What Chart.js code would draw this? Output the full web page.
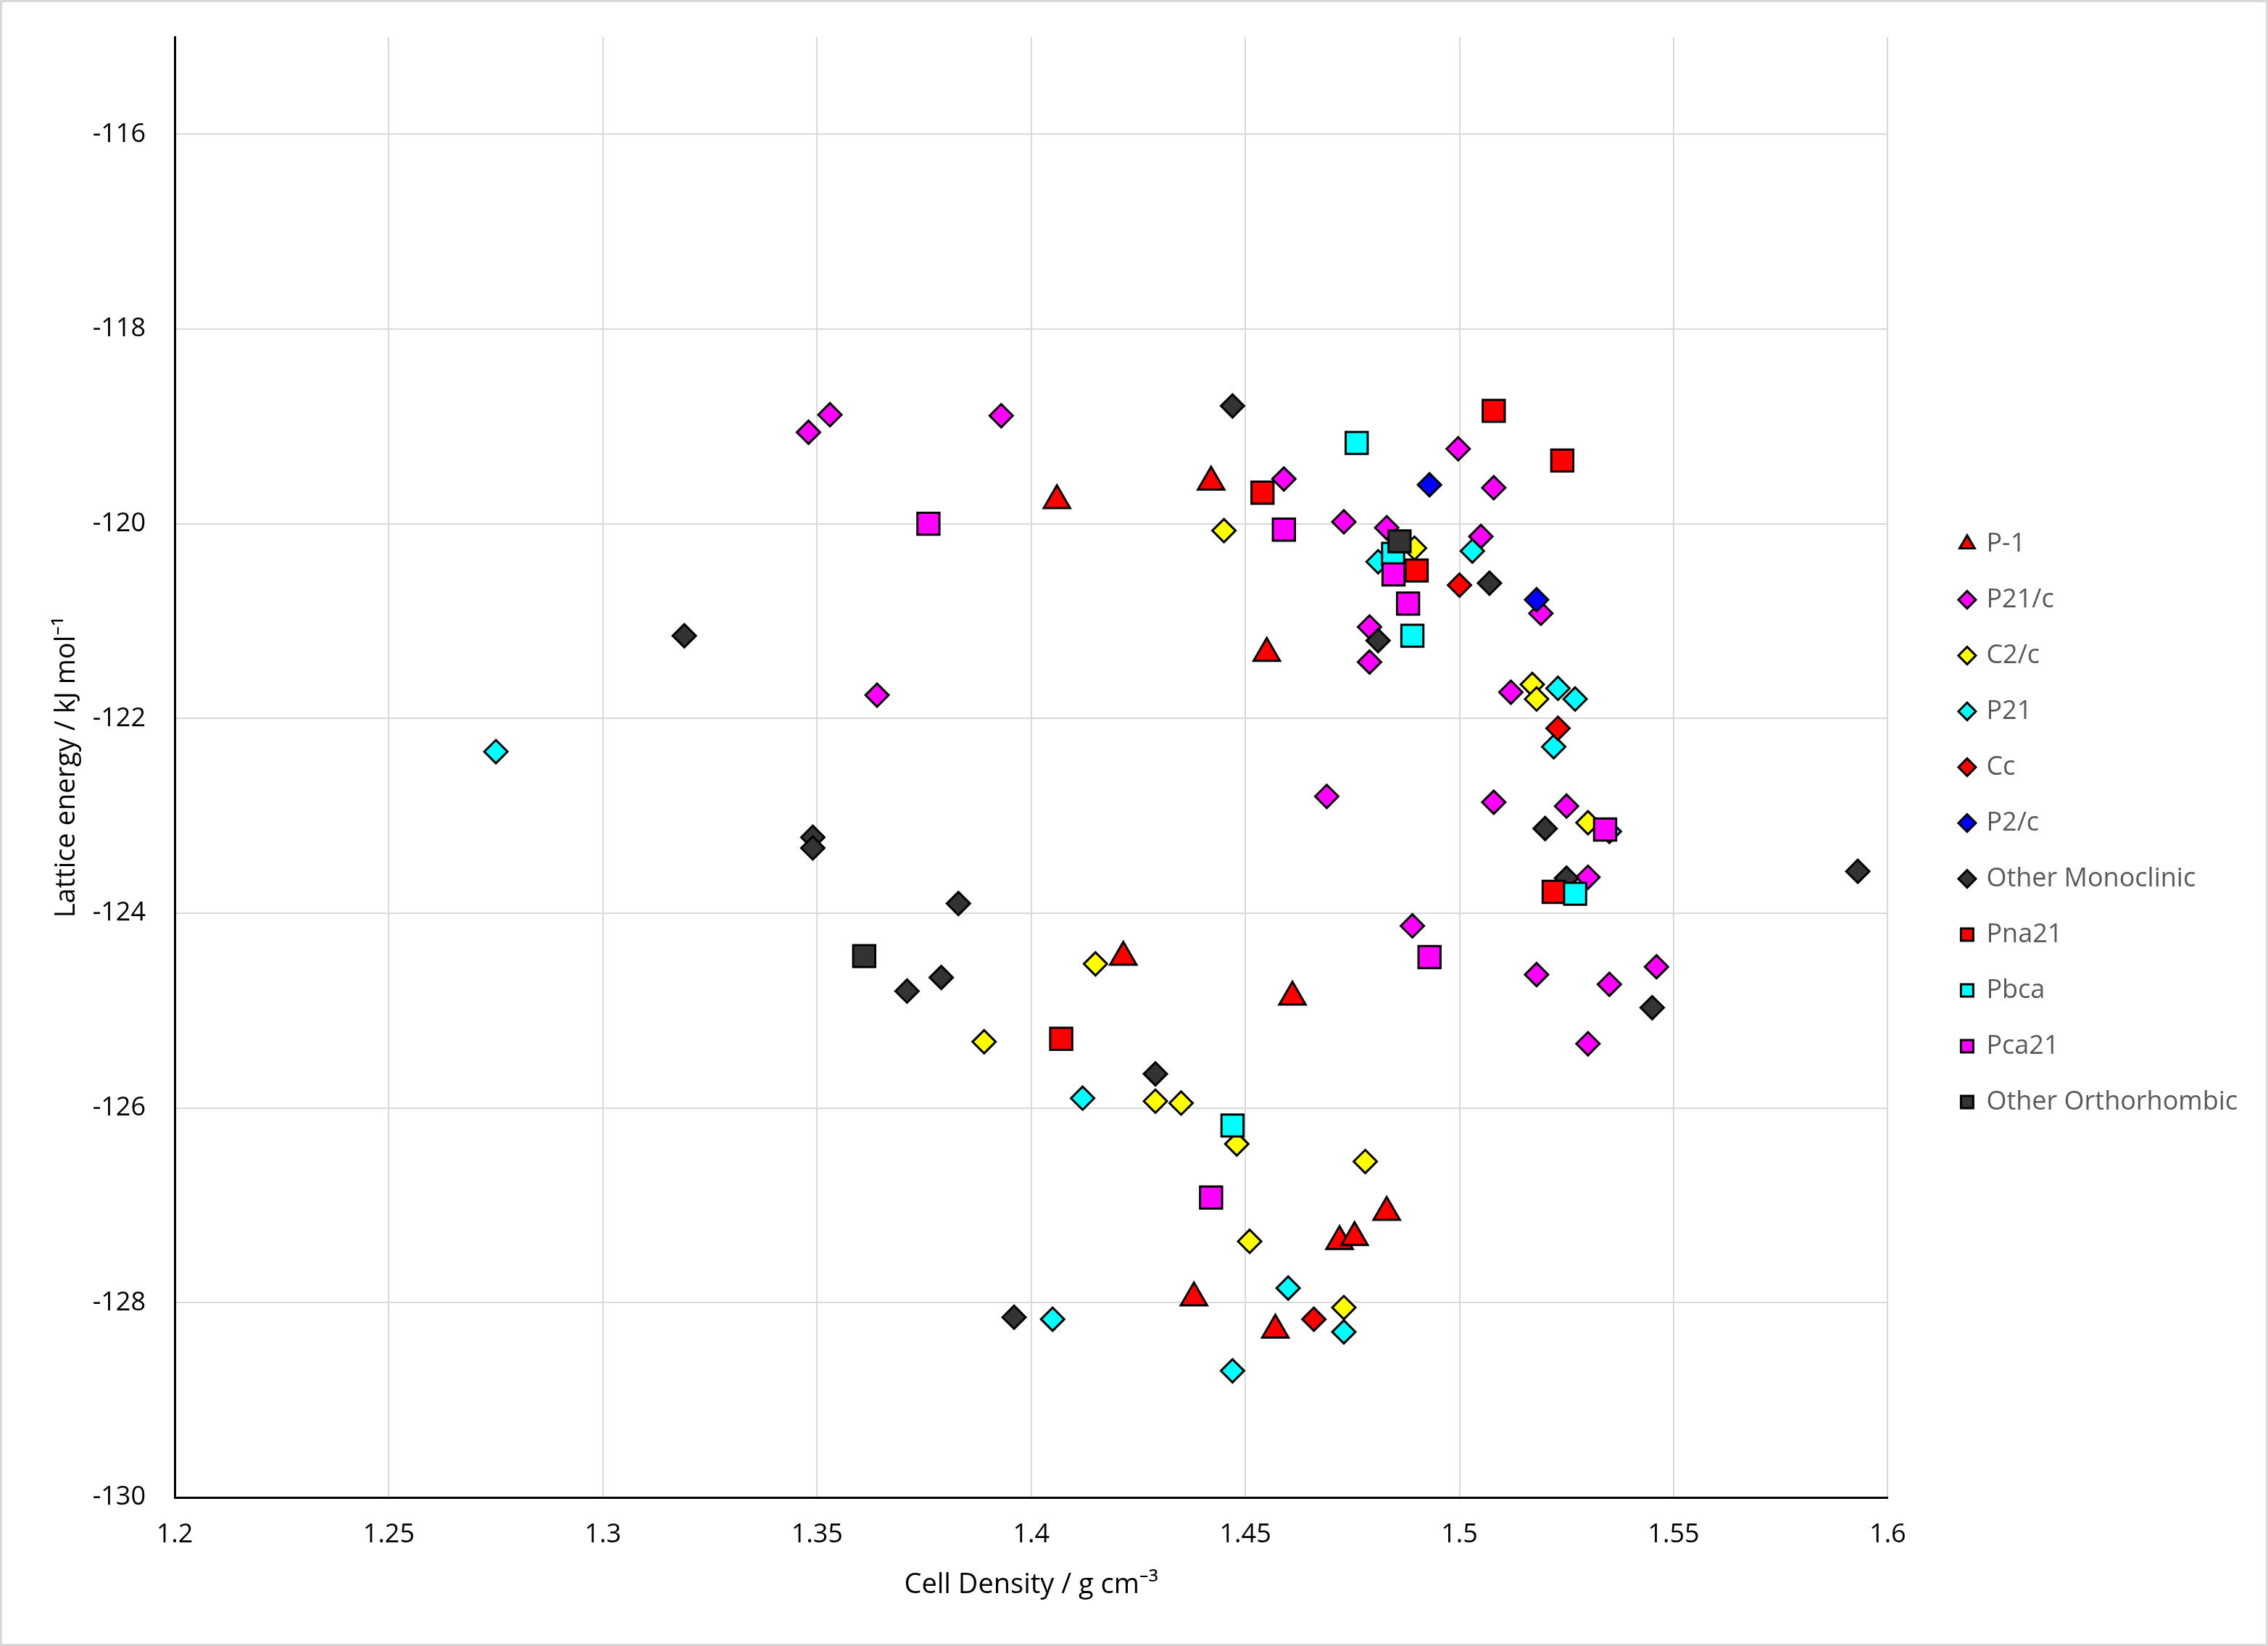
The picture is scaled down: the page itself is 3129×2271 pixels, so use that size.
<!DOCTYPE html>
<html>
<head>
<meta charset="utf-8">
<title>Lattice energy vs cell density</title>
<script src="https://cdn.jsdelivr.net/npm/chart.js@4/dist/chart.umd.min.js"></script>
<style>
  html, body { margin: 0; padding: 0; background: #fff; }
  canvas { display: block; }
</style>
</head>
<body>
<canvas id="densityChart" width="3129" height="2271"></canvas>
<script>
// series names, in the legend's order
const seriesNames = ['P-1', 'P21/c', 'C2/c', 'P21', 'Cc', 'P2/c', 'Other Monoclinic',
  'Pna21', 'Pbca', 'Pca21', 'Other Orthorhombic'];

// [cell density, lattice energy]
const pMinus1 = [[1.406, -119.76], [1.442, -119.57], [1.455, -121.33], [1.4215, -124.45],
  [1.461, -124.86], [1.438, -127.95], [1.457, -128.28], [1.472, -127.37], [1.4755, -127.33],
  [1.483, -127.07]];
const p21c = [[1.348, -119.06], [1.353, -118.88], [1.393, -118.89], [1.364, -121.76],
  [1.459, -119.54], [1.473, -119.98], [1.483, -120.04], [1.4997, -119.23], [1.508, -119.63],
  [1.505, -120.13], [1.479, -121.06], [1.479, -121.42], [1.519, -120.92], [1.512, -121.73],
  [1.469, -122.80], [1.508, -122.86], [1.525, -122.90], [1.530, -123.63], [1.489, -124.13],
  [1.518, -124.63], [1.535, -124.73], [1.546, -124.55], [1.530, -125.34]];
const c2c = [[1.445, -120.07], [1.4895, -120.25], [1.517, -121.65], [1.518, -121.80],
  [1.530, -123.07], [1.415, -124.52], [1.389, -125.32], [1.429, -125.93], [1.435, -125.95],
  [1.448, -126.37], [1.478, -126.55], [1.451, -127.37], [1.473, -128.05]];
const p21 = [[1.275, -122.34], [1.481, -120.39], [1.503, -120.28], [1.523, -121.69],
  [1.527, -121.80], [1.522, -122.29], [1.535, -123.16], [1.412, -125.90], [1.460, -127.85],
  [1.405, -128.17], [1.473, -128.30], [1.447, -128.70]];
const cc = [[1.500, -120.63], [1.523, -122.10], [1.466, -128.17]];
const p2c = [[1.493, -119.60], [1.518, -120.78]];
const otherMono = [[1.447, -118.79], [1.319, -121.15], [1.349, -123.22], [1.349, -123.33],
  [1.383, -123.90], [1.379, -124.66], [1.371, -124.80], [1.429, -125.65], [1.396, -128.15],
  [1.481, -121.20], [1.507, -120.61], [1.520, -123.13], [1.525, -123.64], [1.545, -124.97],
  [1.593, -123.57]];
const pna21 = [[1.508, -118.84], [1.454, -119.68], [1.524, -119.35], [1.490, -120.48],
  [1.522, -123.78], [1.407, -125.29]];
const pbca = [[1.476, -119.17], [1.4845, -120.31], [1.489, -121.15], [1.527, -123.80],
  [1.447, -126.18]];
const pca21 = [[1.376, -120.00], [1.459, -120.06], [1.4846, -120.52], [1.488, -120.82],
  [1.534, -123.14], [1.493, -124.45], [1.442, -126.92]];
const otherOrtho = [[1.486, -120.18], [1.361, -124.44]];

const seriesData = [pMinus1, p21c, c2c, p21, cc, p2c, otherMono, pna21, pbca, pca21, otherOrtho];

// axis ticks
const xTicks = [1.2, 1.25, 1.3, 1.35, 1.4, 1.45, 1.5, 1.55, 1.6];
const yTicks = [-130, -128, -126, -124, -122, -120, -118, -116];

// marker look per series
const fills = ['#ff0000', '#ff00ff', '#ffff00', '#00ffff', '#ff0000', '#0000ff', '#333333',
  '#ff0000', '#00ffff', '#ff00ff', '#333333'];
const shapes = ['triangle', 'rectRot', 'rectRot', 'rectRot', 'rectRot', 'rectRot', 'rectRot',
  'rect', 'rect', 'rect', 'rect'];
const radii = { triangle: 21, rectRot: 16, rect: 21.5 };

const FONT = "'Open Sans', 'Noto Sans', 'DejaVu Sans', sans-serif";
const LEGEND_SIZE = 36, LEGEND_BOX = 17, LEGEND_PAD = 41;

// legend is as wide as its longest label; pad the right so the plot ends where it should
const measure = document.createElement('canvas').getContext('2d');
measure.font = LEGEND_SIZE + 'px ' + FONT;
const longest = Math.max(...seriesNames.map(n => measure.measureText(n).width));
const legendWidth = LEGEND_PAD + LEGEND_BOX + LEGEND_SIZE / 2 + longest + 10;
const rightPad = Math.max(0, Math.round(3129 - 2664 - legendWidth));

const datasets = seriesNames.map((name, i) => ({
  label: name,
  data: seriesData[i].map(p => ({ x: p[0], y: p[1] })),
  pointStyle: shapes[i],
  pointRadius: radii[shapes[i]],
  pointHoverRadius: radii[shapes[i]],
  backgroundColor: fills[i],
  borderColor: '#000000',
  borderWidth: 3,
  order: -i   // later series sit on top, as in the original
}));

// white page with a light grey frame
const frame = {
  id: 'frame',
  beforeDraw(chart) {
    const ctx = chart.ctx;
    ctx.save();
    ctx.fillStyle = '#ffffff';
    ctx.fillRect(0, 0, chart.width, chart.height);
    ctx.strokeStyle = '#d9d9d9';
    ctx.lineWidth = 3;
    ctx.strokeRect(1.5, 1.5, chart.width - 3, chart.height - 3);
    ctx.restore();
  }
};

new Chart(document.getElementById('densityChart'), {
  type: 'scatter',
  data: { datasets: datasets },
  options: {
    responsive: false,
    animation: false,
    layout: { padding: { left: 0, top: 51, right: rightPad, bottom: 51 } },
    plugins: {
      tooltip: { enabled: false },
      legend: {
        position: 'right',
        labels: {
          usePointStyle: true,
          boxWidth: LEGEND_BOX,
          boxHeight: LEGEND_BOX,
          padding: LEGEND_PAD,
          color: '#595959',
          font: { family: FONT, size: LEGEND_SIZE },
          sort: (a, b) => a.datasetIndex - b.datasetIndex
        }
      }
    },
    scales: {
      x: {
        type: 'linear',
        position: 'bottom',
        min: 1.2,
        max: 1.6,
        afterBuildTicks: s => { s.ticks = xTicks.map(v => ({ value: v })); },
        afterFit: s => { s.height = 154; },
        grid: { color: '#d9d9d9', lineWidth: 2, tickLength: 27, tickColor: 'rgba(0,0,0,0)' },
        border: { color: '#000000', width: 3 },
        ticks: {
          padding: 3,
          color: '#000000',
          font: { family: FONT, size: 36 },
          callback: v => String(+v.toFixed(2))
        },
        title: {
          display: true,
          text: 'Cell Density / g cm⁻³',
          color: '#000000',
          font: { family: FONT, size: 38 },
          padding: { top: 0, bottom: 10 }
        }
      },
      y: {
        type: 'linear',
        position: 'left',
        min: -130,
        max: -115,
        afterBuildTicks: s => { s.ticks = yTicks.map(v => ({ value: v })); },
        afterFit: s => { s.width = 241; },
        grid: { color: '#d9d9d9', lineWidth: 2, tickLength: 37, tickColor: 'rgba(0,0,0,0)' },
        border: { color: '#000000', width: 3 },
        ticks: {
          padding: 3,
          color: '#000000',
          font: { family: FONT, size: 36 },
          callback: v => String(v)
        },
        title: {
          display: true,
          text: 'Lattice energy / kJ mol⁻¹',
          color: '#000000',
          font: { family: FONT, size: 38 },
          padding: { top: 69, bottom: 0 }
        }
      },
      // empty strip between the plot and the legend
      gap: {
        type: 'linear',
        position: 'right',
        display: true,
        grid: { display: false },
        border: { display: false },
        ticks: { display: false },
        afterFit: s => { s.width = 60; }
      }
    }
  },
  plugins: [frame]
});
</script>
</body>
</html>
